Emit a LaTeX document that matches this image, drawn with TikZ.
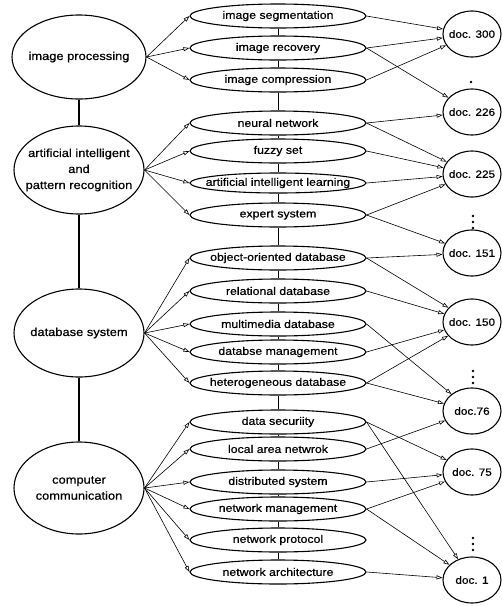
\documentclass[tikz,border=0pt]{standalone}
\usepackage{fontspec}
\setmainfont[FakeStretch=1.12, FakeBold=0.6]{Liberation Sans}
\usetikzlibrary{shapes, arrows.meta, positioning}

\begin{document}
\begin{tikzpicture}[x=1pt, y=-1pt,
    field/.style={ellipse, draw, line width=1.1pt, fill=white, inner xsep=-15pt, inner ysep=0pt,
      minimum width=130pt, minimum height=88pt, align=center, font=\fontsize{11.5}{16}\selectfont},
    topic/.style={ellipse, draw, line width=1.1pt, fill=white, inner xsep=-45pt, inner ysep=0pt,
      minimum width=176pt, minimum height=24pt, font=\fontsize{11}{13}\selectfont},
    doc/.style={ellipse, draw, line width=1.1pt, fill=white, inner xsep=-10pt, inner ysep=0pt,
      minimum width=58pt, minimum height=46pt, font=\fontsize{10.5}{13}\selectfont},
    link/.style={->, line width=0.6pt},
    >={Triangle[open, length=6pt, width=4pt]}]
    \useasboundingbox (0,0) rectangle (502,606);

    % Fields
    \node[field, minimum width=134pt, minimum height=84pt] (ip) at (79,57) {image processing};
    \node[field] (ai) at (79,170) {artificial intelligent\\and\\pattern recognition};
    \node[field] (db) at (79,333) {database system};
    \node[field, minimum height=92pt] (cc) at (79,488) {computer\\communication};

    % Topics
    \node[topic] (seg) at (278,16) {image segmentation};
    \node[topic] (rec) at (278,48) {image recovery};
    \node[topic] (comp) at (278,80) {image compression};
    \node[topic] (nn) at (278,123) {neural network};
    \node[topic] (fs) at (278,151) {fuzzy set};
    \node[topic, minimum height=20pt] (ail) at (278,183) {artificial intelligent learning};
    \node[topic] (es) at (278,215) {expert system};
    \node[topic] (oodb) at (278,258) {object-oriented database};
    \node[topic] (rdb) at (278,291) {relational database};
    \node[topic] (mdb) at (278,324) {multimedia database};
    \node[topic] (dbm) at (278,352) {databse management};
    \node[topic] (hdb) at (278,383) {heterogeneous database};
    \node[topic] (sec) at (278,422) {data securiity};
    \node[topic] (lan) at (278,449) {local area netwrok};
    \node[topic] (ds) at (278,482) {distributed system};
    \node[topic] (nm) at (278,509) {network management};
    \node[topic] (np) at (278,540) {network protocol};
    \node[topic] (na) at (278,572) {network architecture};

    % Documents
    \node[doc] (d300) at (472,34) {doc. 300};
    \node[doc] (d226) at (472,112) {doc. 226};
    \node[doc] (d225) at (472,174) {doc. 225};
    \node[doc] (d151) at (472,253) {doc. 151};
    \node[doc] (d150) at (472,322) {doc. 150};
    \node[doc] (d76) at (472,411) {doc.76};
    \node[doc] (d75) at (472,472) {doc. 75};
    \node[doc] (d1) at (472,580) {doc. 1};

    % Omitted documents
    \fill (471,82) circle (1.4pt);
    \fill (473,216) circle (1.4pt) (473,222) circle (1.4pt) (473,228) circle (1.4pt);
    \fill (473,371) circle (1.4pt) (473,377) circle (1.4pt) (473,383) circle (1.4pt);
    \fill (473,538) circle (1.4pt) (473,544) circle (1.4pt) (473,550) circle (1.4pt);

    % Field chain
    \draw[line width=1.4pt] (ip) -- (ai) (ai) -- (db) (db) -- (cc);

    % Topic chain
    \draw[line width=1pt] (seg) -- (rec) (rec) -- (comp) (comp) -- (nn) (nn) -- (fs)
      (fs) -- (ail) (ail) -- (es) (es) -- (oodb) (oodb) -- (rdb) (rdb) -- (mdb)
      (mdb) -- (dbm) (dbm) -- (hdb) (hdb) -- (sec) (sec) -- (lan) (lan) -- (ds)
      (ds) -- (nm) (nm) -- (np) (np) -- (na);

    % Fields to topics
    \draw[link] (ip.east) -- (seg.west);
    \draw[link] (ip.east) -- (rec.west);
    \draw[link] (ip.east) -- (comp.west);
    \draw[link] (ai.east) -- (nn.west);
    \draw[link] (ai.east) -- (fs.west);
    \draw[link] (ai.east) -- (ail.west);
    \draw[link] (ai.east) -- (es.west);
    \draw[link] (db.east) -- (oodb.west);
    \draw[link] (db.east) -- (rdb.west);
    \draw[link] (db.east) -- (mdb.west);
    \draw[link] (db.east) -- (dbm.west);
    \draw[link] (db.east) -- (hdb.west);
    \draw[link] (cc.east) -- (sec.west);
    \draw[link] (cc.east) -- (lan.west);
    \draw[link] (cc.east) -- (ds.west);
    \draw[link] (cc.east) -- (nm.west);
    \draw[link] (cc.east) -- (np.west);
    \draw[link] (cc.east) -- (na.west);

    % Topics to documents
    \draw[link] (seg.east) -- (d300);
    \draw[link] (rec.east) -- (d300);
    \draw[link] (rec.east) -- (d226);
    \draw[link] (comp.east) -- (d300);
    \draw[link] (nn.east) -- (d226);
    \draw[link] (nn.east) -- (d225);
    \draw[link] (fs.east) -- (d225);
    \draw[link] (ail.east) -- (d225);
    \draw[link] (es.east) -- (d225);
    \draw[link] (es.east) -- (d151);
    \draw[link] (oodb.east) -- (d151);
    \draw[link] (oodb.east) -- (d150);
    \draw[link] (rdb.east) -- (d150);
    \draw[link] (mdb.east) -- (d76);
    \draw[link] (dbm.east) -- (d150);
    \draw[link] (hdb.east) -- (d150);
    \draw[link] (hdb.east) -- (d76);
    \draw[link] (sec.east) -- (d75);
    \draw[link] (sec.east) -- (d1);
    \draw[link] (lan.east) -- (d76);
    \draw[link] (ds.east) -- (d75);
    \draw[link] (nm.east) -- (d75);
    \draw[link] (nm.east) -- (d1);
    \draw[link] (na.east) -- (d1);
\end{tikzpicture}
\end{document}
